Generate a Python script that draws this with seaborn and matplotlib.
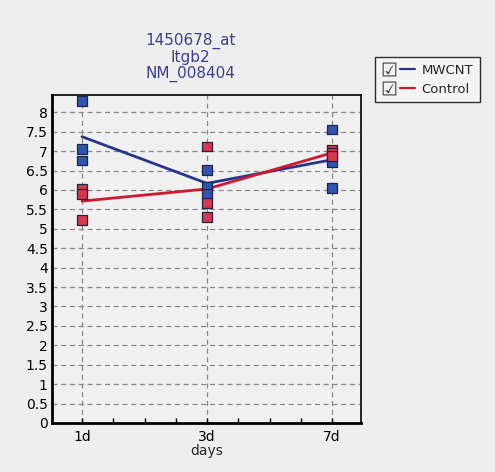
import matplotlib
matplotlib.use("Agg")
import matplotlib.pyplot as plt
import seaborn as sns
import pandas as pd
from matplotlib.lines import Line2D
from matplotlib.legend_handler import HandlerTuple

days = ["1d", "3d", "7d"]
mwcnt_1d = [8.30, 7.06, 6.76]
mwcnt_3d = [6.52, 6.09, 5.90]
mwcnt_7d = [7.56, 6.72, 6.06]
control_1d = [6.03, 5.89, 5.22]
control_3d = [7.12, 5.66, 5.30]
control_7d = [7.04, 6.95, 6.88]
series = ["MWCNT", "Control"]
yticks = [0, 0.5, 1, 1.5, 2, 2.5, 3, 3.5, 4, 4.5, 5, 5.5, 6, 6.5, 7, 7.5, 8]
title_lines = ["1450678_at", "Itgb2", "NM_008404"]

rows = []
for name, vals in [("MWCNT", [mwcnt_1d, mwcnt_3d, mwcnt_7d]),
                   ("Control", [control_1d, control_3d, control_7d])]:
    for d, vs in zip(days, vals):
        for v in vs:
            rows.append({"day": d, "value": v, "group": name})
df = pd.DataFrame(rows)

sns.set_style("white")
plt.rcParams["font.family"] = ["DejaVu Sans"]

bg = "#efeeee"
fig = plt.figure(figsize=(4.95, 4.72), dpi=100, facecolor=bg)
ax = fig.add_axes([0.105, 0.104, 0.624, 0.695])
ax.set_facecolor("#f1f0f0")

line_pal = {"MWCNT": "#26378a", "Control": "#d0182e"}
pt_pal = {"MWCNT": "#2d56b0", "Control": "#d7394a"}

sns.stripplot(data=df, x="day", y="value", hue="group", order=days,
              hue_order=series, palette=pt_pal, jitter=False, dodge=False,
              marker="s", size=7, linewidth=0.9, edgecolor="#222244",
              legend=False, ax=ax, zorder=4)

df["pos"] = df["day"].map({d: i for i, d in enumerate(days)})
sns.lineplot(data=df, x="pos", y="value", hue="group", hue_order=series,
             palette=line_pal, estimator="mean", errorbar=None,
             linewidth=2, legend=False, ax=ax, zorder=3)

ax.set_xlim(-0.24, 2.23)
ax.set_ylim(0, 8.45)
ax.set_xticks(range(len(days)))
ax.set_xticklabels(days)
ax.set_xticks([i * 0.25 for i in range(0, 9)], minor=True)
ax.set_yticks(yticks)
ax.set_yticklabels([("%g" % t) for t in yticks])
ax.tick_params(axis="y", labelsize=10, colors="black", length=0, pad=3, left=True)
ax.tick_params(axis="x", which="both", bottom=True, direction="in",
               length=3.5, width=1, colors="black", labelsize=10, pad=5)
ax.grid(True, which="major", linestyle=(0, (4, 3)), color="#888888", linewidth=0.9)
ax.set_axisbelow(True)
ax.set_xlabel("days", fontsize=10, labelpad=0)
ax.set_ylabel("")

for s in ["left", "bottom"]:
    ax.spines[s].set_linewidth(2)
    ax.spines[s].set_color("black")
for s in ["top", "right"]:
    ax.spines[s].set_linewidth(1.2)
    ax.spines[s].set_color("black")
    ax.spines[s].set_visible(True)

fig.text(0.384, 0.878, "\n".join(title_lines), ha="center", va="center",
         fontsize=11, color="#3b3f8f", linespacing=1.1)

check = Line2D([], [], linestyle="none", marker="$\u2611$", markersize=10,
               color="#333333", markeredgewidth=0)
handles = [(check, Line2D([], [], color=line_pal[s], lw=1.6)) for s in series]
leg = fig.legend(handles, series, loc="upper left",
                 bbox_to_anchor=(0.758, 0.879), fontsize=9.5,
                 frameon=True, fancybox=False, edgecolor="black",
                 facecolor="#f6f6f6", handlelength=2.5, handletextpad=0.5,
                 borderpad=0.5, labelspacing=0.45, borderaxespad=0,
                 handler_map={tuple: HandlerTuple(ndivide=None, pad=0.2)})
leg.get_frame().set_linewidth(1.0)

fig.savefig("out.png", dpi=100, facecolor=bg)
